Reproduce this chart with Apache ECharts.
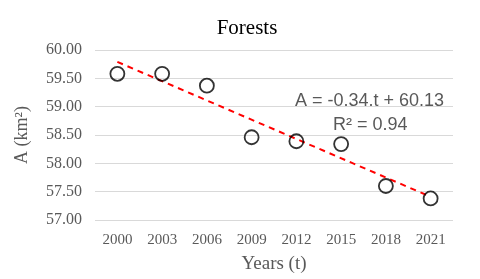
<!DOCTYPE html>
<html><head><meta charset="utf-8">
<script src="https://cdn.jsdelivr.net/npm/echarts@6/dist/echarts.min.js"></script>
<style>html,body{margin:0;padding:0;background:#fff}#c{width:480px;height:279px}</style>
</head><body><div id="c"></div>
<script>
var years = ['2000','2003','2006','2009','2012','2015','2018','2021'];
var area = [59.58, 59.58, 59.37, 58.46, 58.39, 58.34, 57.60, 57.38];
var trend = [59.79, null, null, null, null, null, null, 57.41];
var yTicks = {min: 57, max: 60, interval: 0.5};
var titleText = 'Forests';
var eqText = 'A = -0.34.t + 60.13';
var r2Text = 'R² = 0.94';

var chart = echarts.init(document.getElementById('c'), null, {renderer: 'canvas'});
chart.setOption({
  animation: false,
  title: {text: titleText, left: 242, top: 13, textAlign: 'center',
    textStyle: {fontFamily: 'Liberation Serif', fontSize: 21, fontWeight: 'normal', color: '#000'}},
  grid: {left: 95, right: 27, top: 50, bottom: 59},
  xAxis: {type: 'category', data: years, boundaryGap: true,
    name: 'Years (t)', nameLocation: 'middle', nameGap: 35,
    nameTextStyle: {fontFamily: 'Liberation Serif', fontSize: 19, color: '#595959'},
    axisLine: {show: false}, axisTick: {show: false},
    axisLabel: {fontFamily: 'Liberation Serif', fontSize: 15, color: '#595959', margin: 13}},
  yAxis: {type: 'value', min: yTicks.min, max: yTicks.max, interval: yTicks.interval,
    name: 'A (km²)', nameLocation: 'middle', nameGap: 64, nameRotate: 90,
    nameTextStyle: {fontFamily: 'Liberation Serif', fontSize: 18, color: '#595959'},
    axisLine: {show: false}, axisTick: {show: false},
    axisLabel: {fontFamily: 'Liberation Serif', fontSize: 16, color: '#595959', margin: 13,
      formatter: function(v){return v.toFixed(2);}},
    splitLine: {lineStyle: {color: '#d9d9d9', width: 1}}},
  series: [
    {type: 'line', data: trend, connectNulls: true, symbol: 'none', z: 1,
      lineStyle: {color: '#ff0000', width: 2, type: [6, 5]}},
    {type: 'scatter', data: area, symbol: 'circle', symbolSize: 14, z: 2,
      itemStyle: {color: 'rgba(255,255,255,0)', borderColor: '#000', borderWidth: 1.8}}
  ],
  graphic: [
    {type: 'text', left: 295, top: 92, style: {text: eqText, font: '18px "Liberation Sans"', fill: '#595959'}},
    {type: 'text', left: 333, top: 116, style: {text: r2Text, font: '18px "Liberation Sans"', fill: '#595959'}}
  ]
});
</script></body></html>
